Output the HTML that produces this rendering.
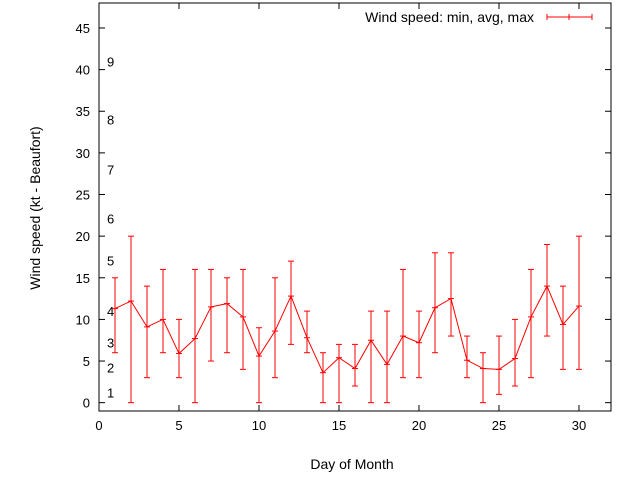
<!DOCTYPE html>
<html><head><meta charset="utf-8"><style>
body{margin:0;background:#fff}
svg{display:block;font-family:"Liberation Sans",sans-serif}
</style></head><body>
<svg id="chart" width="640" height="480" viewBox="0 0 640 480">
<rect width="640" height="480" fill="#fff"/>
<g id="axes"></g>
<g id="beaufort"></g>
<g id="series"></g>
<g>
<text x="534" y="22" font-size="14" text-anchor="end">Wind speed: min, avg, max</text>
<g stroke="#f00" stroke-width="1">
<line x1="547" y1="17" x2="592" y2="17"/><line x1="547" y1="14" x2="547" y2="20"/><line x1="592" y1="14" x2="592" y2="20"/><line x1="569" y1="14" x2="569" y2="20"/>
</g></g>
<text x="352" y="469" font-size="14" text-anchor="middle">Day of Month</text>
<text transform="translate(40,208) rotate(-90)" font-size="14" text-anchor="middle">Wind speed (kt - Beaufort)</text>
</svg>
<script>
const days=[1,2,3,4,5,6,7,8,9,10,11,12,13,14,15,16,17,18,19,20,21,22,23,24,25,26,27,28,29,30];
const avgVals=[11.3,12.2,9.1,10,5.9,7.7,11.5,11.9,10.3,5.6,8.6,12.8,7.8,3.6,5.4,4.1,7.5,4.6,8,7.2,11.4,12.5,5.1,4.1,4,5.3,10.3,14,9.4,11.6];
const minVals=[6,0,3,6,3,0,5,6,4,0,3,7,6,0,0,2,0,0,3,3,6,8,3,0,1,2,3,8,4,4];
const maxVals=[15,20,14,16,10,16,16,15,16,9,15,17,11,6,7,7,11,11,16,11,18,18,8,6,8,10,16,19,14,20];
const xTicks=[0,5,10,15,20,25,30];
const yTicks=[0,5,10,15,20,25,30,35,40,45];
const bftLabels=["1","2","3","4","5","6","7","8","9"];
const bftY=[1.2,4.2,7.2,11,17.1,22.1,28,34,41];
const L=99,R=611,T=3,B=411,XMIN=0,XMAX=32,YMIN=-1,YMAX=48;
const sx=v=>L+(v-XMIN)/(XMAX-XMIN)*(R-L);
const sy=v=>B-(v-YMIN)/(YMAX-YMIN)*(B-T);
const NS="http://www.w3.org/2000/svg";
function mk(tag,attrs,parent){const e=document.createElementNS(NS,tag);for(const k in attrs)e.setAttribute(k,attrs[k]);parent.appendChild(e);return e;}
const ax=document.getElementById('axes');
const frame=mk('rect',{x:L,y:T,width:R-L,height:B-T,fill:'none',stroke:'#000'},ax);


xTicks.forEach(t=>{const x=sx(t);
mk('line',{x1:x,y1:B,x2:x,y2:B-6,stroke:'#000'},ax);
mk('line',{x1:x,y1:T,x2:x,y2:T+6,stroke:'#000'},ax);
const tx=mk('text',{x:x,y:B+19,'font-size':13,'text-anchor':'middle'},ax);tx.textContent=t;

});
yTicks.forEach(t=>{const y=sy(t);
mk('line',{x1:L,y1:y,x2:L+6,y2:y,stroke:'#000'},ax);
mk('line',{x1:R,y1:y,x2:R-6,y2:y,stroke:'#000'},ax);
const tx=mk('text',{x:L-9,y:y+5,'font-size':13,'text-anchor':'end'},ax);tx.textContent=t;

});
const bg=document.getElementById('beaufort');
bftLabels.forEach((s,i)=>{const tx=mk('text',{x:107,y:sy(bftY[i])+5,'font-size':13},bg);tx.textContent=s;

});
const sg=document.getElementById('series');
days.forEach((d,i)=>{const x=sx(d);
const g=mk('g',{stroke:'#f00','stroke-width':1},sg);


mk('line',{x1:x,y1:sy(minVals[i]),x2:x,y2:sy(maxVals[i])},g);
mk('line',{x1:x-3,y1:sy(minVals[i]),x2:x+3,y2:sy(minVals[i])},g);
mk('line',{x1:x-3,y1:sy(maxVals[i]),x2:x+3,y2:sy(maxVals[i])},g);
mk('line',{x1:x-3,y1:sy(avgVals[i]),x2:x+3,y2:sy(avgVals[i])},g);});
const pl=mk('polyline',{points:days.map((d,i)=>sx(d)+','+sy(avgVals[i])).join(' '),fill:'none',stroke:'#f00','stroke-width':1},sg);


</script>
</body></html>
